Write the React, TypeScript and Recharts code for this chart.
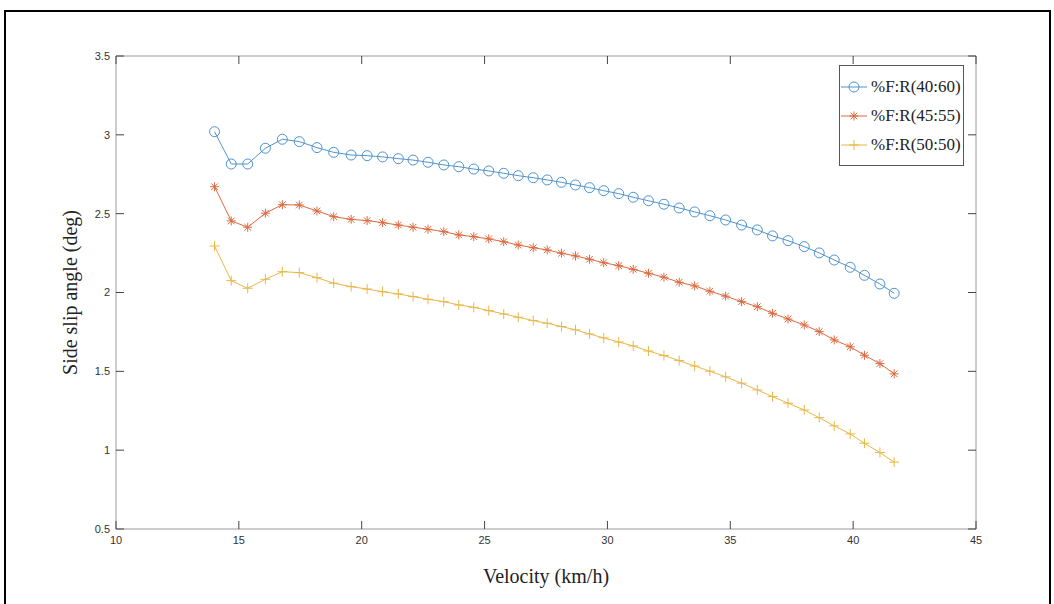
import React from "react";
import { LineChart, Line, XAxis, YAxis, Legend } from "recharts";

// velocity (km/h)
const velocity = [
  14.01, 14.69, 15.36, 16.08, 16.77, 17.46, 18.18, 18.86, 19.57, 20.22,
  20.85, 21.49, 22.09, 22.7, 23.34, 23.95, 24.56, 25.17, 25.78, 26.37,
  26.98, 27.55, 28.13, 28.7, 29.27, 29.85, 30.46, 31.05, 31.67, 32.3,
  32.92, 33.55, 34.17, 34.81, 35.46, 36.1, 36.72, 37.35, 38.01, 38.62,
  39.23, 39.88, 40.46, 41.09, 41.67,
];

const ratio4060 = [
  3.02, 2.815, 2.815, 2.915, 2.972, 2.957, 2.919, 2.889, 2.872, 2.868,
  2.86, 2.849, 2.84, 2.826, 2.809, 2.798, 2.783, 2.771, 2.756, 2.741,
  2.728, 2.714, 2.699, 2.682, 2.665, 2.646, 2.627, 2.604, 2.582, 2.56,
  2.536, 2.511, 2.487, 2.46, 2.428, 2.397, 2.359, 2.329, 2.291, 2.251,
  2.206, 2.16, 2.109, 2.054, 1.995,
];

const ratio4555 = [
  2.671, 2.454, 2.414, 2.503, 2.557, 2.555, 2.517, 2.481, 2.464, 2.456,
  2.443, 2.428, 2.414, 2.401, 2.386, 2.365, 2.354, 2.34, 2.322, 2.301,
  2.284, 2.27, 2.249, 2.232, 2.211, 2.189, 2.17, 2.147, 2.122, 2.097,
  2.065, 2.042, 2.008, 1.977, 1.942, 1.91, 1.868, 1.832, 1.794, 1.752,
  1.699, 1.656, 1.602, 1.549, 1.484,
];

const ratio5050 = [
  2.295, 2.075, 2.027, 2.084, 2.132, 2.126, 2.094, 2.059, 2.037, 2.022,
  2.005, 1.991, 1.974, 1.957, 1.942, 1.921, 1.906, 1.885, 1.864, 1.843,
  1.822, 1.805, 1.784, 1.763, 1.737, 1.712, 1.686, 1.661, 1.629, 1.6,
  1.568, 1.534, 1.501, 1.465, 1.425, 1.382, 1.34, 1.298, 1.255, 1.206,
  1.154, 1.103, 1.044, 0.985, 0.924,
];

const xTicks = [10, 15, 20, 25, 30, 35, 40, 45];
const yTicks = [0.5, 1, 1.5, 2, 2.5, 3, 3.5];

const seriesNames = ["%F:R(40:60)", "%F:R(45:55)", "%F:R(50:50)"];

const data = velocity.map((v, i) => ({
  v,
  a: ratio4060[i],
  b: ratio4555[i],
  c: ratio5050[i],
}));

const BLUE = "#4f93cc";
const ORANGE = "#dc6a40";
const YELLOW = "#e9b748";
const AXIS = "#9a9a9a";
const TICK = "#444";
const TL = 8; // tick length
const TS = 1; // recharts tickSize
const TM = 5; // tick margin
const OFF = TS + TM;

const tickFont = { fontFamily: "Liberation Sans, Arial, sans-serif", fontSize: 11, fill: "#333" };

const CircleMark = ({ cx, cy, color }: any) => (
  <circle cx={cx} cy={cy} r={5} fill="none" stroke={color} strokeWidth={1} />
);

const StarMark = ({ cx, cy, color }: any) => {
  const s = 4.5;
  const d = 3.3;
  return (
    <g stroke={color} strokeWidth={1}>
      <line x1={cx - s} x2={cx + s} y1={cy} y2={cy} />
      <line x1={cx} x2={cx} y1={cy - s} y2={cy + s} />
      <line x1={cx - d} x2={cx + d} y1={cy - d} y2={cy + d} />
      <line x1={cx - d} x2={cx + d} y1={cy + d} y2={cy - d} />
    </g>
  );
};

const PlusMark = ({ cx, cy, color }: any) => {
  const s = 5;
  return (
    <g stroke={color} strokeWidth={1}>
      <line x1={cx - s} x2={cx + s} y1={cy} y2={cy} />
      <line x1={cx} x2={cx} y1={cy - s} y2={cy + s} />
    </g>
  );
};

const LeftTick = (p: any) => (
  <g>
    <line x1={p.x + OFF} x2={p.x + OFF + TL} y1={p.y} y2={p.y} stroke={TICK} />
    <text x={p.x} y={p.y} dy="0.35em" textAnchor="end" {...tickFont}>
      {p.payload.value}
    </text>
  </g>
);

const RightTick = (p: any) => (
  <line x1={p.x - OFF} x2={p.x - OFF - TL} y1={p.y} y2={p.y} stroke={TICK} />
);

const BottomTick = (p: any) => (
  <g>
    <line x1={p.x} x2={p.x} y1={p.y - OFF} y2={p.y - OFF - TL} stroke={TICK} />
    <text x={p.x} y={p.y} dy="0.85em" textAnchor="middle" {...tickFont}>
      {p.payload.value}
    </text>
  </g>
);

const TopTick = (p: any) => (
  <line x1={p.x} x2={p.x} y1={p.y + OFF} y2={p.y + OFF + TL} stroke={TICK} />
);

const legendRows = [
  { name: seriesNames[0], color: BLUE, Mark: CircleMark },
  { name: seriesNames[1], color: ORANGE, Mark: StarMark },
  { name: seriesNames[2], color: YELLOW, Mark: PlusMark },
];

const LegendBox = () => (
  <div
    style={{
      border: "1px solid #555",
      background: "#fff",
      padding: "6px 4px 6px 1px",
      width: 118,
    }}
  >
    {legendRows.map((r) => (
      <div key={r.name} style={{ display: "flex", alignItems: "center", height: 29 }}>
        <svg width={28} height={14} style={{ flex: "none" }}>
          <line x1={0} x2={26} y1={7} y2={7} stroke={r.color} strokeWidth={1} />
          <r.Mark cx={13} cy={7} color={r.color} />
        </svg>
        <span
          style={{
            marginLeft: 2,
            fontFamily: "Liberation Serif, 'Times New Roman', serif",
            fontSize: 17,
            color: "#222",
            lineHeight: 1,
            whiteSpace: "nowrap",
          }}
        >
          {r.name}
        </span>
      </div>
    ))}
  </div>
);

export default function App() {
  return (
    <div
      style={{
        position: "absolute",
        left: 0,
        top: 0,
        width: 1054,
        height: 604,
        overflow: "hidden",
        background: "#fff",
      }}
    >
      <LineChart
        width={1054}
        height={604}
        data={data}
        margin={{ top: 55, right: 77, bottom: 15, left: 56 }}
      >
        <XAxis
          dataKey="v"
          type="number"
          domain={[10, 45]}
          ticks={xTicks}
          allowDataOverflow
          height={60}
          axisLine={{ stroke: AXIS }}
          tickLine={false}
          tickSize={TS}
          tickMargin={TM}
          tick={BottomTick}
          interval={0}
          label={{
            value: "Velocity (km/h)",
            position: "insideBottom",
            offset: 6,
            style: {
              fontFamily: "Liberation Serif, 'Times New Roman', serif",
              fontSize: 20,
              fill: "#222",
            },
          }}
        />
        <XAxis
          xAxisId="top"
          dataKey="v"
          orientation="top"
          type="number"
          domain={[10, 45]}
          ticks={xTicks}
          allowDataOverflow
          height={1}
          axisLine={{ stroke: AXIS }}
          tickLine={false}
          tickSize={TS}
          tickMargin={TM}
          tick={TopTick}
          interval={0}
        />
        <YAxis
          type="number"
          domain={[0.5, 3.5]}
          ticks={yTicks}
          allowDataOverflow
          width={60}
          axisLine={{ stroke: AXIS }}
          tickLine={false}
          tickSize={TS}
          tickMargin={TM}
          tick={LeftTick}
          interval={0}
          label={{
            value: "Side slip angle (deg)",
            angle: -90,
            position: "insideLeft",
            offset: 14,
            style: {
              textAnchor: "middle",
              fontFamily: "Liberation Serif, 'Times New Roman', serif",
              fontSize: 20,
              fill: "#222",
            },
          }}
        />
        <YAxis
          yAxisId="right"
          dataKey="a"
          orientation="right"
          type="number"
          domain={[0.5, 3.5]}
          ticks={yTicks}
          allowDataOverflow
          width={1}
          axisLine={{ stroke: AXIS }}
          tickLine={false}
          tickSize={TS}
          tickMargin={TM}
          tick={RightTick}
          interval={0}
        />
        <Legend
          layout="horizontal"
          verticalAlign="middle"
          align="center"
          wrapperStyle={{ left: 839, top: 65, width: "auto" }}
          content={() => <LegendBox />}
        />
        <Line
          dataKey="a"
          name={seriesNames[0]}
          stroke={BLUE}
          strokeWidth={1}
          isAnimationActive={false}
          dot={(p: any) => <CircleMark key={`a${p.index}`} cx={p.cx} cy={p.cy} color={BLUE} />}
        />
        <Line
          dataKey="b"
          name={seriesNames[1]}
          stroke={ORANGE}
          strokeWidth={1}
          isAnimationActive={false}
          dot={(p: any) => <StarMark key={`b${p.index}`} cx={p.cx} cy={p.cy} color={ORANGE} />}
        />
        <Line
          dataKey="c"
          name={seriesNames[2]}
          stroke={YELLOW}
          strokeWidth={1}
          isAnimationActive={false}
          dot={(p: any) => <PlusMark key={`c${p.index}`} cx={p.cx} cy={p.cy} color={YELLOW} />}
        />
      </LineChart>
      <div
        style={{
          position: "absolute",
          left: 4,
          top: 10,
          width: 1043,
          height: 640,
          border: "2px solid #000",
          pointerEvents: "none",
        }}
      />
    </div>
  );
}
